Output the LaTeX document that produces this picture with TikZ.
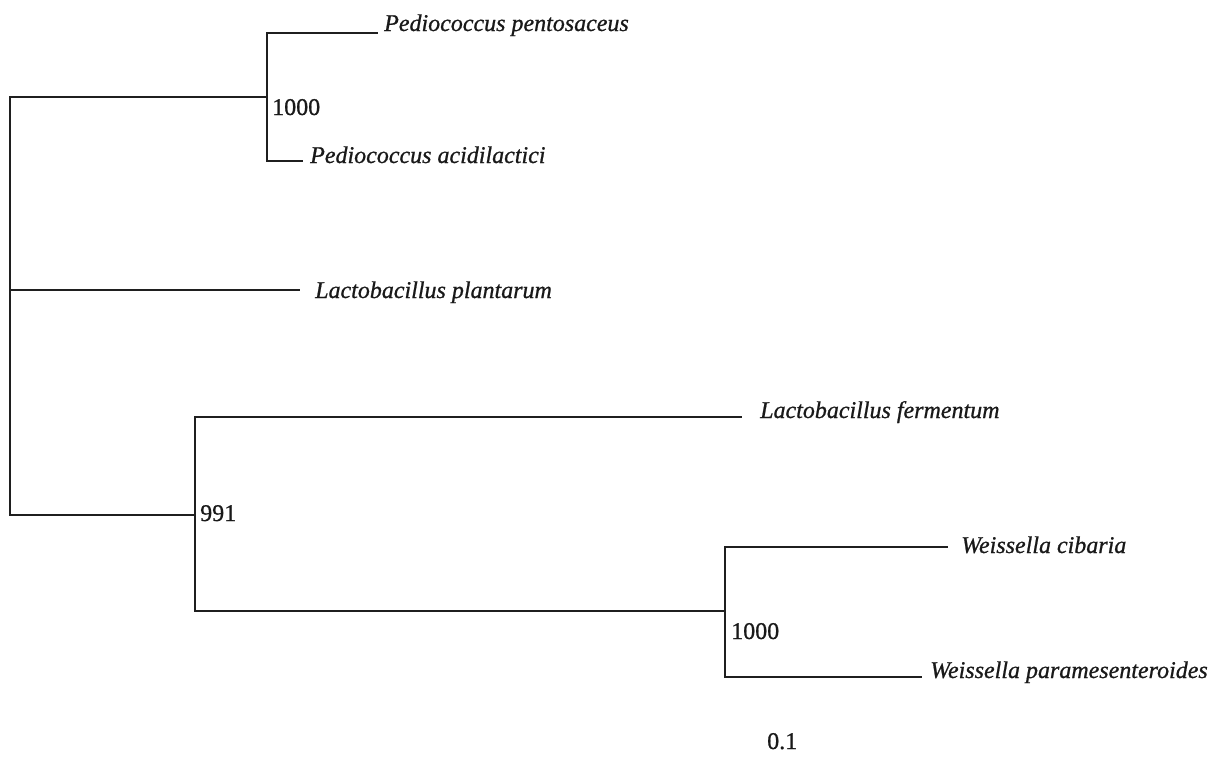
\documentclass[tikz,border=0pt]{standalone}
\usepackage{fontspec}
\setmainfont{Liberation Serif}
\newfontfamily\scanfont[FakeBold=0.8]{Liberation Serif}
\begin{document}
\begin{tikzpicture}[x=1pt,y=-1pt,
  branch/.style={line width=2.8pt,draw=black!88,line join=miter},
  taxon/.style={anchor=base west,inner sep=0pt,text=black!90,font=\scanfont\fontsize{24}{28}\selectfont\itshape},
  support/.style={anchor=base west,inner sep=0pt,text=black!90,font=\scanfont\fontsize{24}{28}\selectfont}]
\fill[white] (0,0) rectangle (1218,761);
\useasboundingbox (0,0) rectangle (1218,761);
% internal nodes
\coordinate (r) at (10,290);
\coordinate (nP) at (267,97);
\coordinate (n991) at (195,515);
\coordinate (nW) at (725,611);
% branch tips
\coordinate (tPp) at (378,33);
\coordinate (tPa) at (303,161);
\coordinate (tLp) at (300,290);
\coordinate (tLf) at (742,417);
\coordinate (tWc) at (948,547);
\coordinate (tWp) at (922,677);
% labels
\node[taxon] (lPp) at (384,31) {Pediococcus pentosaceus};
\node[taxon] (lPa) at (310,163) {Pediococcus acidilactici};
\node[taxon] (lLp) at (315,298) {Lactobacillus plantarum};
\node[taxon] (lLf) at (760,418) {Lactobacillus fermentum};
\node[taxon] (lWc) at (961,553) {Weissella cibaria};
\node[taxon] (lWp) at (930,678) {Weissella paramesenteroides};
\node[support] (bP) at (272,115) {1000};
\node[support] (b991) at (200,521) {991};
\node[support] (bW) at (731,639) {1000};
\node[support] (scale) at (767,749) {0.1};
% branches
\draw[branch] (r) |- (nP);
\draw[branch] (r) |- (n991);
\draw[branch] (r) -- (tLp);
\draw[branch] (nP) |- (tPp);
\draw[branch] (nP) |- (tPa);
\draw[branch] (n991) |- (tLf);
\draw[branch] (n991) |- (nW);
\draw[branch] (nW) |- (tWc);
\draw[branch] (nW) |- (tWp);
\end{tikzpicture}
\end{document}
